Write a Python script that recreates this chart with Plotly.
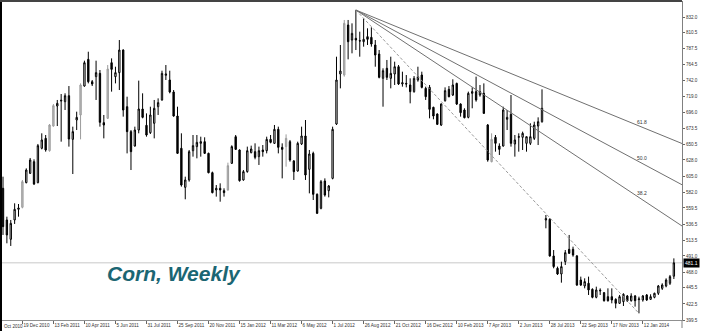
import pandas as pd
import plotly.graph_objects as go

# ---------------- data ----------------
start_date = "2010-11-14"
n_weeks = 174
dates = pd.date_range(start_date, periods=n_weeks, freq="7D")

opens = [
    587.5, 542.3, 514.7, 542.3, 557.5, 560.4, 595.6, 608.9, 625.5, 595.6,
    644.6, 658.8, 641.2, 676.4, 705.0, 712.1, 711.2, 719.7, 657.4, 685.0,
    692.2, 733.5, 771.6, 739.7, 746.9, 751.6, 681.2, 687.4, 766.8, 746.9,
    752.6, 784.9, 704.0, 668.4, 647.9, 670.7, 700.7, 677.4, 666.9, 680.3,
    704.0, 713.6, 748.8, 742.1, 725.0, 690.7, 644.6, 588.9, 599.4, 641.2,
    647.0, 651.7, 654.1, 637.4, 609.8, 585.1, 587.5, 584.1, 585.1, 623.2,
    661.2, 642.2, 599.4, 611.3, 638.4, 639.8, 632.7, 642.2, 641.2, 657.4,
    651.7, 671.7, 646.0, 647.0, 654.1, 626.5, 612.2, 650.8, 662.2, 614.6,
    637.4, 578.9, 558.9, 597.9, 584.1, 601.7, 679.3, 750.7, 749.2, 820.6,
    799.2, 801.6, 798.3, 796.8, 804.0, 803.0, 792.1, 779.2, 744.5, 758.8,
    744.5, 750.7, 761.1, 736.4, 737.3, 735.0, 725.5, 742.1, 749.2, 730.2,
    731.6, 703.1, 693.6, 677.9, 712.6, 728.8, 720.7, 737.3, 707.8, 699.3,
    688.8, 723.1, 725.5, 720.7, 723.1, 677.9, 625.5, 660.3, 647.9, 647.9,
    686.0, 693.1, 650.8, 660.3, 660.3, 651.7, 651.7, 658.8, 676.4, 682.6,
    542.3, 543.2, 490.9, 473.3, 465.2, 482.8, 500.4, 500.4, 490.9, 456.6,
    448.1, 451.9, 443.3, 431.9, 440.9, 438.5, 432.8, 432.8, 429.0, 423.3,
    425.7, 433.8, 427.1, 433.8, 428.6, 428.1, 435.2, 429.0, 431.9, 437.6,
    444.7, 448.1, 451.9, 462.0,
]
highs = [
    604.1, 547.0, 542.3, 566.1, 565.1, 599.4, 616.0, 630.8, 628.9, 650.8,
    666.0, 663.6, 679.3, 707.8, 713.6, 722.1, 723.1, 733.5, 675.5, 696.9,
    737.3, 769.7, 782.5, 742.1, 769.7, 756.4, 692.2, 763.5, 773.0, 761.1,
    799.2, 785.9, 718.3, 670.7, 675.5, 741.2, 723.1, 694.5, 704.0, 713.6,
    715.9, 755.4, 763.5, 755.4, 727.8, 704.0, 666.0, 604.1, 642.2, 663.6,
    663.6, 661.2, 660.3, 638.4, 611.3, 592.2, 594.6, 587.5, 624.1, 648.9,
    663.6, 643.1, 613.6, 647.0, 648.4, 651.7, 647.0, 649.3, 661.2, 663.6,
    677.9, 675.5, 651.7, 664.5, 656.5, 627.9, 654.1, 675.5, 685.0, 642.2,
    639.8, 580.3, 599.4, 601.7, 592.2, 675.5, 775.4, 792.1, 827.8, 827.8,
    823.0, 842.0, 811.1, 830.1, 815.9, 817.3, 799.2, 784.9, 758.8, 770.7,
    775.4, 768.3, 763.5, 754.0, 749.2, 744.5, 747.8, 761.1, 754.0, 732.6,
    735.0, 704.0, 694.5, 708.8, 731.6, 733.5, 743.1, 738.3, 708.8, 701.7,
    725.5, 731.6, 746.9, 735.0, 737.3, 679.3, 666.0, 663.6, 651.7, 704.0,
    699.3, 720.7, 663.6, 666.0, 668.4, 661.2, 680.3, 682.6, 688.8, 728.8,
    549.4, 544.7, 499.4, 475.7, 482.8, 499.4, 520.9, 504.2, 492.3, 461.4,
    459.0, 461.4, 444.7, 447.1, 444.7, 439.5, 444.7, 444.7, 430.5, 435.2,
    437.6, 435.2, 437.6, 435.2, 432.8, 435.2, 436.6, 436.2, 438.5, 449.5,
    451.9, 459.0, 463.8, 487.5,
]
lows = [
    520.9, 509.0, 505.2, 536.6, 547.0, 558.9, 594.6, 607.9, 592.2, 594.6,
    643.1, 639.8, 639.8, 675.5, 676.4, 654.1, 699.3, 647.0, 607.9, 670.7,
    657.4, 732.6, 737.3, 733.5, 713.6, 675.5, 658.8, 686.4, 725.5, 737.3,
    727.8, 689.8, 637.4, 613.6, 647.0, 666.0, 687.4, 661.2, 665.0, 658.8,
    692.2, 712.6, 742.1, 723.1, 689.8, 636.5, 589.9, 571.8, 597.0, 632.7,
    630.3, 632.7, 636.5, 608.9, 580.3, 575.6, 568.4, 575.6, 584.1, 622.2,
    642.2, 597.0, 598.4, 609.8, 637.4, 628.9, 620.8, 632.7, 637.4, 651.7,
    650.8, 637.4, 601.7, 618.4, 625.5, 599.4, 611.3, 649.3, 599.4, 580.3,
    570.8, 550.8, 557.5, 575.6, 574.6, 600.3, 677.9, 730.2, 746.9, 771.6,
    780.2, 784.9, 775.4, 789.7, 792.1, 789.7, 761.1, 744.5, 704.0, 742.1,
    730.2, 735.0, 735.0, 732.6, 731.6, 708.8, 724.0, 739.7, 730.2, 713.6,
    687.4, 686.0, 677.9, 676.4, 711.2, 717.4, 719.3, 706.4, 689.8, 687.4,
    687.4, 701.7, 711.2, 718.3, 693.6, 625.5, 624.6, 639.8, 635.1, 647.0,
    670.7, 647.0, 632.7, 639.8, 642.2, 639.8, 649.3, 656.5, 649.3, 681.2,
    530.4, 489.9, 473.3, 463.8, 452.8, 478.0, 493.7, 489.9, 448.1, 448.1,
    444.7, 435.2, 430.5, 430.5, 435.2, 425.7, 425.7, 423.3, 416.2, 422.4,
    419.5, 425.7, 425.7, 418.6, 409.0, 425.7, 426.7, 428.1, 430.5, 435.2,
    442.4, 446.2, 449.5, 458.0,
]
closes = [
    532.8, 520.9, 537.5, 557.5, 559.4, 597.0, 613.6, 627.9, 593.7, 648.4,
    656.5, 642.2, 677.9, 705.5, 708.8, 713.1, 719.7, 657.9, 668.4, 688.8,
    735.0, 766.8, 739.7, 736.4, 752.6, 681.7, 677.9, 757.8, 757.3, 752.6,
    784.9, 699.3, 668.4, 639.8, 670.7, 700.7, 688.8, 663.6, 692.2, 701.7,
    709.8, 751.6, 750.7, 725.0, 690.7, 637.4, 592.2, 599.4, 639.8, 648.4,
    653.1, 654.1, 637.4, 609.8, 581.3, 587.5, 585.1, 581.3, 619.8, 647.0,
    643.1, 598.4, 611.3, 641.2, 643.6, 631.7, 641.2, 639.8, 657.4, 653.1,
    671.7, 646.0, 643.1, 658.8, 627.9, 611.3, 651.7, 662.2, 606.5, 636.5,
    578.9, 551.8, 597.0, 577.9, 590.8, 671.7, 742.1, 754.9, 823.0, 796.8,
    808.7, 799.2, 797.8, 800.2, 800.2, 793.5, 777.8, 745.9, 755.4, 745.9,
    751.6, 761.1, 736.4, 738.3, 736.4, 725.5, 744.5, 746.9, 731.6, 718.3,
    700.2, 690.7, 678.8, 707.8, 726.9, 718.3, 735.0, 707.8, 695.5, 688.3,
    723.1, 725.5, 713.6, 725.5, 694.5, 627.9, 657.4, 651.7, 643.1, 699.3,
    688.8, 651.7, 656.5, 661.2, 666.0, 661.2, 661.2, 677.9, 682.6, 701.7,
    544.2, 490.9, 475.7, 465.2, 475.7, 495.6, 494.7, 492.3, 449.5, 449.5,
    454.3, 442.4, 431.9, 442.4, 441.9, 427.1, 427.1, 428.1, 423.3, 432.8,
    436.2, 426.7, 433.8, 427.1, 429.5, 433.8, 428.1, 432.8, 437.6, 448.1,
    449.5, 456.6, 461.4, 481.1,
]
gray_weeks = [5, 12, 13, 20, 27, 58, 73, 88, 126]

fan_high_week = 91
fan_low_week = 164
fan_high = 842.0
fan_low = 409.0
fan_levels = [61.8, 50.0, 38.2]
last_price = 481.1

y_tick_values = [399.5, 422.5, 445.5, 468.0, 491.0, 513.5, 536.5, 559.5, 582.0, 605.0,
                 628.0, 650.5, 673.5, 696.0, 719.0, 742.0, 764.5, 787.5, 810.5, 832.0]
x_tick_dates = pd.date_range("2010-12-19", "2014-01-12", freq="56D")
first_label_text = "Oct 2010"
title_text = "Corn, Weekly"

# ---------------- figure ----------------
W, H = 702, 331
ML, MR, MT, MB = 1, 20, 1, 11
PW, PH = W - ML - MR, H - MT - MB

week = pd.Timedelta(days=7)
x_left = dates[0] - 0.516 * week
x_right = dates[0] + 175.1 * week
y_range = [399.5, 854.9]


def px_to_py(py):
    return 1 - (py - MT) / PH


def px_to_px(px):
    return (px - ML) / PW


norm = [i for i in range(n_weeks) if i not in gray_weeks]

fig = go.Figure()
fig.add_trace(go.Candlestick(
    x=[dates[i] for i in norm],
    open=[opens[i] for i in norm], high=[highs[i] for i in norm],
    low=[lows[i] for i in norm], close=[closes[i] for i in norm],
    increasing=dict(fillcolor="white", line=dict(color="black", width=1)),
    decreasing=dict(fillcolor="black", line=dict(color="black", width=1)),
    hoverinfo="skip", showlegend=False,
))
fig.add_trace(go.Candlestick(
    x=[dates[i] for i in gray_weeks],
    open=[opens[i] for i in gray_weeks], high=[highs[i] for i in gray_weeks],
    low=[lows[i] for i in gray_weeks], close=[closes[i] for i in gray_weeks],
    increasing=dict(fillcolor="#bdbdbd", line=dict(color="#9c9c9c", width=1)),
    decreasing=dict(fillcolor="#bdbdbd", line=dict(color="#9c9c9c", width=1)),
    hoverinfo="skip", showlegend=False,
))

shapes = []
# current price line
shapes.append(dict(type="line", xref="paper", x0=0, x1=1, yref="y", y0=last_price, y1=last_price,
                   line=dict(color="#c8c8c8", width=1), layer="below"))
# fan base (high to low), dashed
t_hi = dates[fan_high_week]
t_lo = dates[fan_low_week]
shapes.append(dict(type="line", xref="x", yref="y", x0=t_hi, y0=fan_high, x1=t_lo, y1=fan_low,
                   line=dict(color="#9a9a9a", width=1, dash="3px,2px")))
annotations = []
span = (x_right - t_hi) / (t_lo - t_hi)
for lvl in fan_levels:
    p = fan_low + lvl / 100.0 * (fan_high - fan_low)
    y_end = fan_high + (p - fan_high) * span
    shapes.append(dict(type="line", xref="x", yref="y", x0=t_hi, y0=fan_high, x1=x_right, y1=y_end,
                       line=dict(color="#707070", width=1)))
    annotations.append(dict(xref="x", yref="y", x=t_lo, y=p, text=f"{lvl:.1f}", showarrow=False,
                            xanchor="left", yanchor="bottom", xshift=-4, yshift=-1,
                            font=dict(size=5, color="#333333", family="Liberation Sans, Arial")))

# borders
shapes.append(dict(type="line", xref="paper", yref="paper", x0=0, x1=0, y0=-MB / PH, y1=1 + MT / PH,
                   line=dict(color="black", width=2)))
shapes.append(dict(type="line", xref="paper", yref="paper", x0=-ML / PW, x1=1, y0=1, y1=1,
                   line=dict(color="#444444", width=2)))
shapes.append(dict(type="line", xref="paper", yref="paper", x0=1, x1=1, y0=px_to_py(328), y1=0,
                   line=dict(color="#808080", width=1)))

# price box
annotations.append(dict(xref="paper", yref="y", x=1, y=last_price, text=f"{last_price:.1f}", showarrow=False,
                        xanchor="left", yanchor="middle", xshift=1, bgcolor="black", borderpad=1,
                        font=dict(size=5, color="white", family="Liberation Sans, Arial")))
# first (partly hidden) date label
annotations.append(dict(xref="paper", yref="paper", x=px_to_px(2), y=px_to_py(326.5),
                        text=first_label_text, showarrow=False, xanchor="left", yanchor="middle",
                        font=dict(size=4.6, color="#333333", family="Liberation Sans, Arial")))
# title
annotations.append(dict(xref="paper", yref="paper", x=px_to_px(105), y=px_to_py(273.5),
                        text=f"<b><i>{title_text}</i></b>", showarrow=False, xanchor="left", yanchor="middle",
                        font=dict(size=21, color="#1b6673", family="Liberation Sans, Arial")))

fig.update_layout(
    width=W, height=H,
    margin=dict(l=ML, r=MR, t=MT, b=MB, pad=0, autoexpand=False),
    paper_bgcolor="white", plot_bgcolor="white",
    showlegend=False, boxgap=0.5,
    shapes=shapes, annotations=annotations,
    xaxis=dict(
        type="date", range=[str(x_left), str(x_right)],
        rangeslider=dict(visible=False), automargin=False,
        showgrid=False, zeroline=False,
        showline=True, linecolor="#909090", linewidth=1,
        ticks="outside", ticklen=3, tickcolor="#666666", tickwidth=1,
        tickmode="array", tickvals=list(x_tick_dates),
        ticktext=[f"{d.day} {d.strftime('%b %Y')}" for d in x_tick_dates],
        ticklabelposition="outside right", tickangle=0,
        tickfont=dict(size=4.6, color="#333333", family="Liberation Sans, Arial"),
    ),
    yaxis=dict(
        side="right", range=y_range, automargin=False,
        showgrid=False, zeroline=False,
        showline=True, linecolor="#808080", linewidth=1,
        ticks="outside", ticklen=2, tickcolor="#666666",
        tickmode="array", tickvals=y_tick_values,
        ticktext=[f"{v:.1f}" for v in y_tick_values],
        tickfont=dict(size=4.6, color="#333333", family="Liberation Sans, Arial"),
    ),
)

fig.write_html("out.html")
